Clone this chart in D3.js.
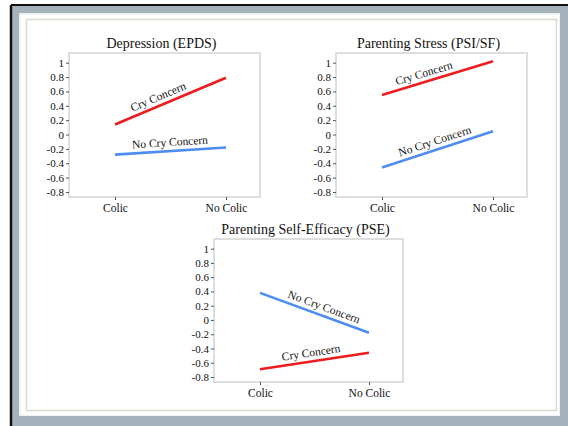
<!DOCTYPE html>
<html>
<head>
<style>
  body { margin: 0; background: #fff; }
  svg { display: block; }
  svg text { font-family: "Liberation Serif", "Times New Roman", "DejaVu Serif", serif !important; }
</style>
</head>
<body>
<script src="https://cdn.jsdelivr.net/npm/d3@7"></script>
<script>

const width = 568;
const height = 426;

// data
const categories = ['Colic', 'No Colic'];
const yTicks = [1, 0.8, 0.6, 0.4, 0.2, 0, -0.2, -0.4, -0.6, -0.8];
const titles = ['Depression (EPDS)', 'Parenting Stress (PSI/SF)', 'Parenting Self-Efficacy (PSE)'];
const seriesNames = ['Cry Concern', 'No Cry Concern'];
const cryConcern = [[0.14, 0.79], [0.55, 1.02], [-0.69, -0.46]];
const noCryConcern = [[-0.28, -0.18], [-0.46, 0.045], [0.38, -0.18]];

const colors = {'Cry Concern': '#ec1c1f', 'No Cry Concern': '#4d8cf0'};
const labelPos = [[0.42, 0.5], [0.4, 0.5], [0.48, 0.56]];

const panels = [
  {x: 69, y: 53, w: 191, h: 144},
  {x: 336, y: 53, w: 191, h: 144},
  {x: 214, y: 239, w: 189, h: 143}
];

const svg = d3.select('body')
              .append('svg')
              .attr('width', width)
              .attr('height', height);

// window frame
svg.append('rect').attr('x', 11).attr('y', 5).attr('width', width - 11).attr('height', height - 5)
   .attr('fill', '#a4b3bb');
svg.append('line').attr('x1', 11).attr('y1', 5).attr('x2', width).attr('y2', 5)
   .attr('stroke', '#111').attr('stroke-width', 2);
svg.append('line').attr('x1', 11).attr('y1', 5).attr('x2', 11).attr('y2', height)
   .attr('stroke', '#111').attr('stroke-width', 2.5);
svg.append('rect').attr('x', 19).attr('y', 13).attr('width', 541).attr('height', 403)
   .attr('fill', '#eef2f2');
svg.append('rect').attr('x', 21).attr('y', 15).attr('width', 538).attr('height', 400)
   .attr('fill', '#fff');
svg.append('rect').attr('x', 26.5).attr('y', 19.5).attr('width', 530).attr('height', 391)
   .attr('fill', '#fff').attr('stroke', '#d9d9cf').attr('stroke-width', 1.5);

panels.forEach((p, i) => {
  const g = svg.append('g');

  const x = d3.scalePoint()
              .domain(categories)
              .range([p.x + 46, p.x + p.w - 34]);

  const y = d3.scaleLinear()
              .domain([-0.87, 1.135])
              .range([p.y + p.h, p.y]);

  // plot box
  g.append('rect')
   .attr('x', p.x).attr('y', p.y).attr('width', p.w).attr('height', p.h)
   .attr('fill', '#fff')
   .attr('stroke', '#dedede')
   .attr('stroke-width', 2);

  g.append('text')
   .attr('x', p.x + p.w / 2 - 3)
   .attr('y', p.y - 5)
   .attr('text-anchor', 'middle')
   .attr('font-size', 14)
   .attr('fill', '#111')
   .text(titles[i]);

  const yAxis = g.append('g')
                 .attr('transform', `translate(${p.x},0)`)
                 .call(d3.axisLeft(y).tickValues(yTicks).tickSize(3).tickPadding(2)
                         .tickFormat(d => String(d)));
  yAxis.select('.domain').remove();
  yAxis.selectAll('line').attr('stroke', '#555');
  yAxis.selectAll('text').attr('font-size', 11).attr('fill', '#111');

  const xAxis = g.append('g')
                 .attr('transform', `translate(0,${p.y + p.h})`)
                 .call(d3.axisBottom(x).tickSize(3).tickPadding(4));
  xAxis.select('.domain').remove();
  xAxis.selectAll('line').attr('stroke', '#555');
  xAxis.selectAll('text').attr('font-size', 11.5).attr('fill', '#111');

  const series = [
    {name: seriesNames[0], values: cryConcern[i], t: labelPos[i][0]},
    {name: seriesNames[1], values: noCryConcern[i], t: labelPos[i][1]}
  ];

  series.forEach(s => {
    const pts = categories.map((c, k) => [x(c), y(s.values[k])]);
    g.append('path')
     .attr('d', d3.line()(pts))
     .attr('fill', 'none')
     .attr('stroke', colors[s.name])
     .attr('stroke-width', 2.6);

    const ang = Math.atan2(pts[1][1] - pts[0][1], pts[1][0] - pts[0][0]) * 180 / Math.PI;
    const lx = pts[0][0] + (pts[1][0] - pts[0][0]) * s.t;
    const ly = pts[0][1] + (pts[1][1] - pts[0][1]) * s.t;
    g.append('text')
     .attr('transform', `translate(${lx},${ly}) rotate(${ang}) translate(0,-5)`)
     .attr('text-anchor', 'middle')
     .attr('font-size', 11.5)
     .attr('fill', '#111')
     .text(s.name);
  });
});

</script>
</body>
</html>
